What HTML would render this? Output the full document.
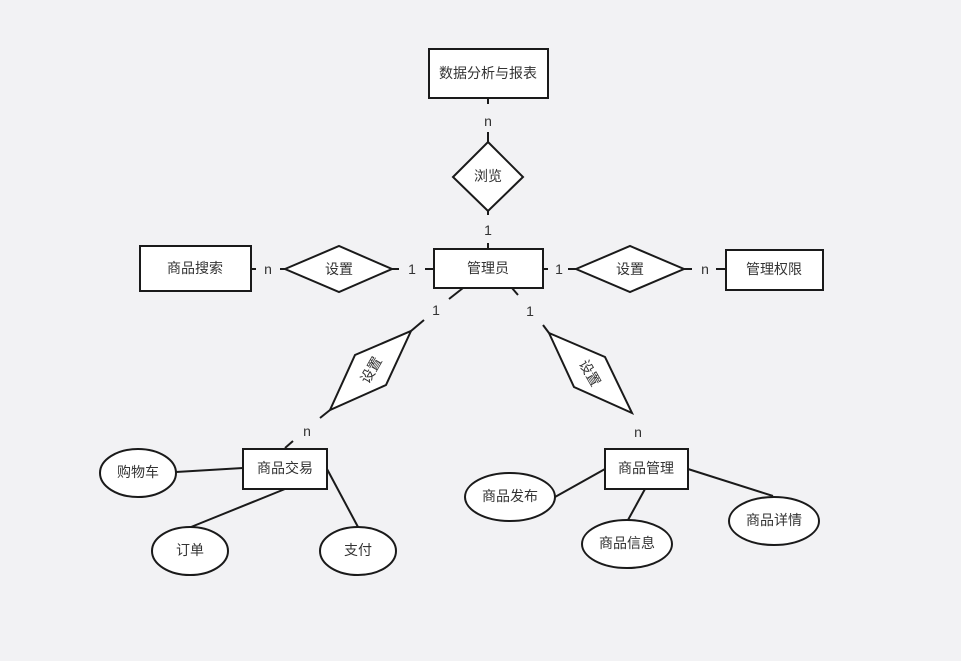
<!DOCTYPE html>
<html><head><meta charset="utf-8"><style>
html,body{margin:0;padding:0;background:#f2f2f4;}
svg{display:block}
text{font-family:"Liberation Sans","Noto Sans CJK SC",sans-serif;font-size:14px;fill:#333;text-anchor:middle;dominant-baseline:central}
.s{stroke:#1a1a1a;stroke-width:2;fill:#fff}
.l{stroke:#1a1a1a;stroke-width:2;fill:none}
</style></head><body>
<svg width="961" height="661" viewBox="0 0 961 661">
<!-- lines -->
<line class="l" x1="488" y1="98" x2="488" y2="104"/>
<line class="l" x1="488" y1="132" x2="488" y2="142"/>
<line class="l" x1="488" y1="211" x2="488" y2="215"/>
<line class="l" x1="488" y1="243" x2="488" y2="248"/>
<line class="l" x1="251" y1="269" x2="256" y2="269"/>
<line class="l" x1="280" y1="269" x2="285" y2="269"/>
<line class="l" x1="392" y1="269" x2="399" y2="269"/>
<line class="l" x1="425" y1="269" x2="433" y2="269"/>
<line class="l" x1="543" y1="269" x2="548" y2="269"/>
<line class="l" x1="568" y1="269" x2="576" y2="269"/>
<line class="l" x1="684" y1="269" x2="692" y2="269"/>
<line class="l" x1="716" y1="269" x2="726" y2="269"/>
<line class="l" x1="463" y1="288" x2="449" y2="299"/>
<line class="l" x1="424" y1="320" x2="411" y2="331"/>
<line class="l" x1="330" y1="410" x2="320" y2="418"/>
<line class="l" x1="293" y1="441" x2="285" y2="448"/>
<line class="l" x1="512" y1="288" x2="518" y2="295"/>
<line class="l" x1="543" y1="325" x2="549" y2="333"/>
<line class="l" x1="176" y1="472" x2="243" y2="468"/>
<line class="l" x1="285" y1="489" x2="191" y2="527"/>
<line class="l" x1="327" y1="469" x2="358" y2="527"/>
<line class="l" x1="555" y1="497" x2="605" y2="469"/>
<line class="l" x1="645" y1="489" x2="628" y2="520"/>
<line class="l" x1="688" y1="469" x2="773" y2="496"/>
<!-- entities -->
<rect class="s" x="429" y="49" width="119" height="49"/><text x="488" y="73">数据分析与报表</text>
<rect class="s" x="434" y="249" width="109" height="39"/><text x="488" y="268">管理员</text>
<rect class="s" x="140" y="246" width="111" height="45"/><text x="195" y="268">商品搜索</text>
<rect class="s" x="726" y="250" width="97" height="40"/><text x="774" y="269">管理权限</text>
<rect class="s" x="243" y="449" width="84" height="40"/><text x="285" y="468">商品交易</text>
<rect class="s" x="605" y="449" width="83" height="40"/><text x="646" y="468">商品管理</text>
<!-- relations -->
<polygon class="s" points="488,142 523,177 488,211 453,177"/><text x="488" y="176">浏览</text>
<polygon class="s" points="285,269 339,246 392,269 339,292"/><text x="339" y="269">设置</text>
<polygon class="s" points="576,269 630,246 684,269 630,292"/><text x="630" y="269">设置</text>
<polygon class="s" points="411,331 386,385 330,410 355,355"/><text x="371" y="370" transform="rotate(-60 371 370)">设置</text>
<polygon class="s" points="549,333 605,357 632,413 574,387"/><text x="590" y="373" transform="rotate(60 590 373)">设置</text>
<!-- attributes -->
<ellipse class="s" cx="138" cy="473" rx="38" ry="24"/><text x="138" y="472">购物车</text>
<ellipse class="s" cx="190" cy="551" rx="38" ry="24"/><text x="190" y="550">订单</text>
<ellipse class="s" cx="358" cy="551" rx="38" ry="24"/><text x="358" y="550">支付</text>
<ellipse class="s" cx="510" cy="497" rx="45" ry="24"/><text x="510" y="496">商品发布</text>
<ellipse class="s" cx="627" cy="544" rx="45" ry="24"/><text x="627" y="543">商品信息</text>
<ellipse class="s" cx="774" cy="521" rx="45" ry="24"/><text x="774" y="520">商品详情</text>
<!-- cardinalities -->
<text x="488" y="121">n</text>
<text x="488" y="230">1</text>
<text x="268" y="269">n</text>
<text x="412" y="269">1</text>
<text x="559" y="269">1</text>
<text x="705" y="269">n</text>
<text x="436" y="310">1</text>
<text x="530" y="311">1</text>
<text x="307" y="431">n</text>
<text x="638" y="432">n</text>
</svg>
</body></html>
